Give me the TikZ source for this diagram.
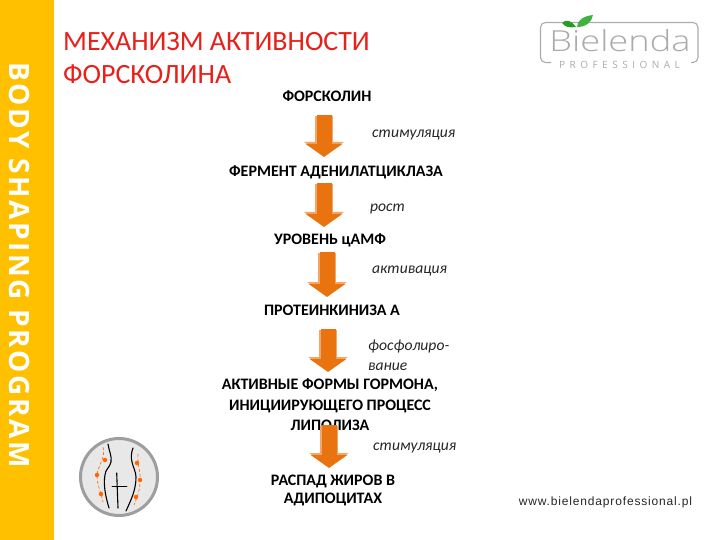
\documentclass[tikz,border=0pt]{standalone}
\usepackage{fontspec}
\setmainfont{Carlito}
\newfontfamily\sidefont[LetterSpace=9]{Open Sans}
\newfontfamily\logofont[FakeStretch=1.25]{Open Sans Light}
\newfontfamily\logosp[LetterSpace=45]{Open Sans}
\newfontfamily\webfont[LetterSpace=7]{Liberation Sans}
\usetikzlibrary{arrows.meta}
\definecolor{sidebar}{HTML}{FFC000}
\definecolor{flow}{HTML}{E8730F}
\definecolor{flowedge}{HTML}{F2A768}
\definecolor{titlered}{HTML}{E8201A}
\definecolor{logogray}{HTML}{ABABAB}
\tikzset{
  stage/.style={font=\fontsize{16}{20.5}\selectfont\bfseries,align=center,inner sep=0pt,text=black},
  note/.style={font=\fontsize{15.6}{20}\selectfont\itshape,align=left,anchor=west,inner sep=0pt,text=black!85},
  flowarrow/.style={draw=flow,line width=15pt,-{Triangle[length=13pt,width=36pt,fill=flow]}},
  flowglow/.style={draw=flowedge,line width=18pt,-{Triangle[length=14pt,width=39pt,fill=flowedge]}},
  body/.style={line width=1.1pt,black,line cap=round},
  dots/.style={line width=.6pt,orange!80!red,densely dashed},
  spot/.style={circle,fill=orange!80!red,inner sep=0pt,minimum size=4.5pt},
}
\begin{document}
\begin{tikzpicture}[x=1pt,y=-1pt]
\useasboundingbox (0,0) rectangle (720,540);
\fill[white] (0,0) rectangle (720,540);
\fill[sidebar] (0,0) rectangle (54,540);
\node (side) at (20,265) [rotate=-90,text=white,font=\fontsize{28}{29}\sidefont\bfseries,inner sep=0pt] {BODY SHAPING PROGRAM};
\node (title) at (63,58) [anchor=west,align=left,inner sep=0pt,text=titlered,font=\fontsize{27.9}{33.5}\selectfont] {МЕХАНИЗМ АКТИВНОСТИ\\ФОРСКОЛИНА};
% logo
\draw[logogray,line width=1.1pt,rounded corners=5pt] (551,62.5) -- (540.5,62.5) -- (540.5,22.5) -- (698,22.5) -- (698,62.5) -- (691,62.5);
\node (logo) at (620,41) [inner sep=0pt,text=logogray,font=\fontsize{29}{29}\logofont] {Bielenda};
\node (logosub) at (619.5,64.5) [inner sep=0pt,text=logogray,font=\fontsize{10}{10}\logosp] {PROFESSIONAL};
\fill[green!55!black!85] (562,23) .. controls (566,19) and (571,20) .. (576,27) .. controls (569,28) and (565,27) .. (562,23) -- cycle;
\fill[green!60!black!75] (577,27) .. controls (577,20) and (584,16) .. (593,15) .. controls (592,22) and (586,27) .. (577,27) -- cycle;
% flow texts
\node[stage] (n1) at (327,96) {ФОРСКОЛИН};
\node[stage] (n2) at (336,172) {ФЕРМЕНТ АДЕНИЛАТЦИКЛАЗА};
\node[stage] (n3) at (330,240) {УРОВЕНЬ цАМФ};
\node[stage] (n4) at (332,310) {ПРОТЕИНКИНИЗА А};
\node[stage] (n5) at (330,405) {АКТИВНЫЕ ФОРМЫ ГОРМОНА,\\ИНИЦИИРУЮЩЕГО ПРОЦЕСС\\ЛИПОЛИЗА};
\node[stage,font=\fontsize{16}{18}\selectfont\bfseries] (n6) at (333,490) {РАСПАД ЖИРОВ В\\АДИПОЦИТАХ};
\node[note] (l1) at (372,135) {стимуляция};
\node[note] (l2) at (370,208.5) {рост};
\node[note] (l3) at (372,271) {активация};
\node[note] (l4) at (368,355.5) {фосфолиро-\\вание};
\node[note] (l5) at (373,448.5) {стимуляция};
% arrows
\coordinate (a1s) at (324,116); \coordinate (a1e) at (324,156);
\coordinate (a2s) at (324,184); \coordinate (a2e) at (324,226);
\coordinate (a3s) at (327,253); \coordinate (a3e) at (327,296);
\coordinate (a4s) at (328,330); \coordinate (a4e) at (328,371);
\coordinate (a5s) at (329,426); \coordinate (a5e) at (329,467);
\foreach \i in {1,...,5} {
  \draw[flowglow] (a\i s) -- (a\i e);
  \draw[flowarrow] ([yshift=1pt]a\i s) -- ([yshift=-1pt]a\i e);
}
% body icon
\draw[line width=3pt,black!38,fill=black!9] (119,477) circle (38.5);
\draw[body] (108,444) .. controls (109,451) and (112,456) .. (111,462) .. controls (110,467) and (105,470) .. (105,475) .. controls (103,485) and (106,498) .. (109,508);
\draw[body] (133,448) .. controls (131,453) and (131,458) .. (132,462) .. controls (133,467) and (136,472) .. (136,477) .. controls (136,490) and (131,500) .. (126,511);
\draw[body] (116.7,473) -- (118,508);
\draw[body,line width=.7pt] (112,486) -- (127,486);
\draw[dots] (103,447) .. controls (106,458) and (98,465) .. (97,475) .. controls (97,485) and (101,492) .. (103,502);
\draw[dots] (138,454) .. controls (137,465) and (141,472) .. (140,480) .. controls (140,490) and (138,495) .. (134,505);
\node[spot] at (105,460) {}; \node[spot] at (97,475) {}; \node[spot] at (101,494) {};
\node[spot] at (137,463) {}; \node[spot] at (140,480) {}; \node[spot] at (136,497) {};
\node (web) at (605.5,502) [inner sep=0pt,text=black!85,font=\fontsize{12}{12}\webfont] {www.bielendaprofessional.pl};
\end{tikzpicture}
\end{document}
